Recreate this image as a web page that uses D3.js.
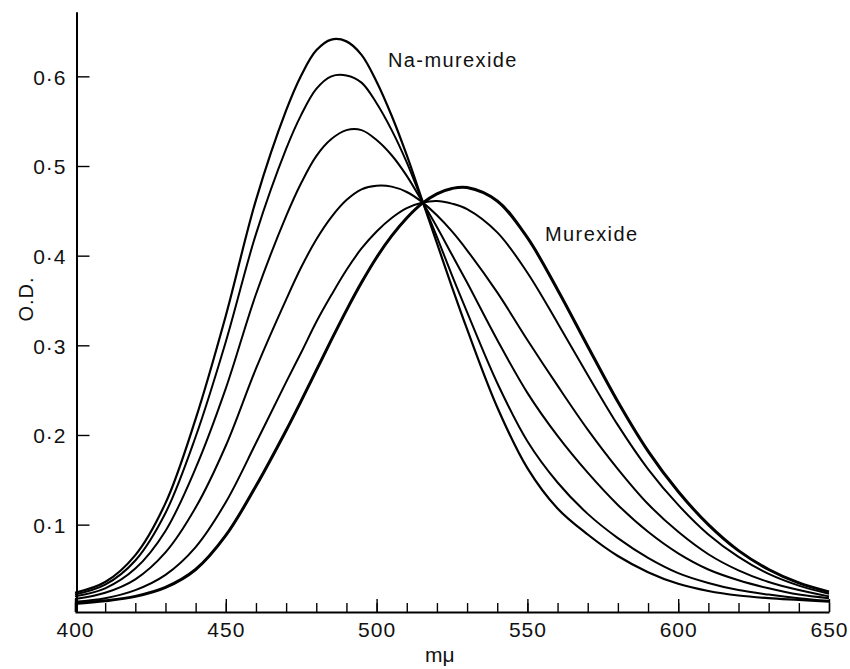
<!DOCTYPE html>
<html>
<head>
<meta charset="utf-8">
<script src="https://cdn.jsdelivr.net/npm/d3@7"></script>
<style>
  body { margin: 0; background: #fff; }
  svg { display: block; }
  text { font-family: "Liberation Sans", Arial, sans-serif; fill: #111; }
</style>
</head>
<body>
<svg width="850" height="669"></svg>
<script>
// wavelength (mu) and optical density
const wavelengths = [400, 410, 420, 430, 440, 450, 460, 470, 475, 480, 485, 490, 495, 500, 505,
  510, 515, 520, 525, 530, 540, 550, 560, 570, 580, 590, 600, 610, 620, 630, 640, 650];

const naMurexide = [0.024, 0.036, 0.066, 0.124, 0.218, 0.333, 0.462, 0.562, 0.601, 0.629, 0.641, 0.639, 0.624, 0.594, 0.556,
  0.512, 0.463, 0.414, 0.365, 0.318, 0.231, 0.163, 0.118, 0.089, 0.065, 0.047, 0.034, 0.026, 0.021, 0.018, 0.016, 0.014];
const mixA = [0.022, 0.033, 0.060, 0.113, 0.198, 0.304, 0.424, 0.519, 0.557, 0.586, 0.600, 0.601, 0.593, 0.570, 0.540,
  0.504, 0.462, 0.421, 0.378, 0.337, 0.258, 0.193, 0.147, 0.112, 0.085, 0.063, 0.046, 0.035, 0.027, 0.022, 0.018, 0.015];
const mixB = [0.020, 0.029, 0.051, 0.093, 0.163, 0.252, 0.357, 0.444, 0.481, 0.511, 0.530, 0.540, 0.540, 0.529, 0.512,
  0.489, 0.461, 0.432, 0.401, 0.370, 0.306, 0.247, 0.199, 0.158, 0.122, 0.092, 0.068, 0.050, 0.038, 0.029, 0.022, 0.018];
const mixC = [0.017, 0.024, 0.039, 0.069, 0.119, 0.188, 0.274, 0.351, 0.387, 0.418, 0.443, 0.462, 0.474, 0.478, 0.477,
  0.471, 0.460, 0.445, 0.427, 0.406, 0.359, 0.306, 0.255, 0.206, 0.162, 0.123, 0.092, 0.067, 0.049, 0.036, 0.027, 0.020];
const mixD = [0.014, 0.018, 0.027, 0.044, 0.075, 0.125, 0.191, 0.259, 0.292, 0.326, 0.356, 0.384, 0.408, 0.427, 0.442,
  0.453, 0.459, 0.461, 0.458, 0.452, 0.426, 0.381, 0.325, 0.267, 0.211, 0.162, 0.122, 0.089, 0.064, 0.045, 0.032, 0.023];
const murexide = [0.012, 0.015, 0.020, 0.030, 0.050, 0.088, 0.143, 0.205, 0.238, 0.272, 0.306, 0.339, 0.370, 0.398, 0.422,
  0.442, 0.458, 0.469, 0.475, 0.476, 0.461, 0.420, 0.362, 0.299, 0.237, 0.182, 0.137, 0.100, 0.071, 0.050, 0.035, 0.025];

const xMinorTicks = d3.range(400, 651, 10);
const xTickLabels = [400, 450, 500, 550, 600, 650];
const yTickLabels = [0.1, 0.2, 0.3, 0.4, 0.5, 0.6];

const series = [
  { values: naMurexide, width: 2.2 },
  { values: mixA, width: 2 },
  { values: mixB, width: 2 },
  { values: mixC, width: 2 },
  { values: mixD, width: 2 },
  { values: murexide, width: 3 }
];

const svg = d3.select("svg");

const xScale = d3.scaleLinear()
  .domain([400, 650])
  .range([75, 829]);
const yScale = d3.scaleLinear()
  .domain([0, 0.7])
  .range([614.3, 614.3 - 0.7 * 896.6]);

// x axis sits a touch above zero in the original print
const baseValue = 0.0025;
const yTop = 0.672;

// x axis: minor ticks every 10, labelled ticks every 50
svg.append("g")
  .attr("transform", `translate(0,${yScale(baseValue)})`)
  .call(d3.axisBottom(xScale).tickValues(xMinorTicks).tickSizeInner(-9).tickSizeOuter(0).tickFormat(""))
  .call(g => g.select(".domain").attr("stroke-width", 2))
  .call(g => g.selectAll(".tick line").attr("stroke-width", 1.4));

svg.append("g")
  .attr("transform", `translate(0,${yScale(baseValue)})`)
  .call(d3.axisBottom(xScale).tickValues(xTickLabels).tickSizeInner(-13).tickSizeOuter(0).tickPadding(10))
  .call(g => g.select(".domain").remove())
  .call(g => g.selectAll(".tick line").attr("stroke-width", 1.4))
  .call(g => g.selectAll(".tick text")
    .attr("font-size", 21)
    .attr("letter-spacing", 1)
    .attr("font-family", "Liberation Sans, Arial, sans-serif"));

// y axis
const yAxisScale = yScale.copy().domain([baseValue, yTop]).range([yScale(baseValue), yScale(yTop)]);
svg.append("g")
  .attr("transform", `translate(${xScale(400) + 1.5},0)`)
  .call(d3.axisLeft(yAxisScale).tickValues(yTickLabels).tickSizeInner(-13).tickSizeOuter(0).tickPadding(10)
    .tickFormat(d => d3.format(".1f")(d).replace(".", "\u00b7")))
  .call(g => g.select(".domain").attr("stroke-width", 2))
  .call(g => g.selectAll(".tick line").attr("stroke-width", 1.4))
  .call(g => g.selectAll(".tick text")
    .attr("font-size", 21)
    .attr("dy", "0.38em")
    .attr("letter-spacing", 1)
    .attr("font-family", "Liberation Sans, Arial, sans-serif"));

// spectra
const line = d3.line()
  .x((d, i) => xScale(wavelengths[i]))
  .y(d => yScale(d))
  .curve(d3.curveCatmullRom.alpha(0.5));

svg.append("g")
  .selectAll("path")
  .data(series)
  .enter().append("path")
  .attr("d", d => line(d.values))
  .attr("fill", "none")
  .attr("stroke", "#000")
  .attr("stroke-width", d => d.width)
  .attr("stroke-linejoin", "round");

// labels
svg.append("text")
  .attr("x", 388)
  .attr("y", 66.5)
  .attr("font-size", 20)
  .attr("letter-spacing", 1.4)
  .text("Na-murexide");

svg.append("text")
  .attr("x", 545)
  .attr("y", 240.5)
  .attr("font-size", 20)
  .attr("letter-spacing", 1.4)
  .text("Murexide");

svg.append("text")
  .attr("x", 425)
  .attr("y", 662)
  .attr("font-size", 21)
  .text("m\u03bc");

svg.append("text")
  .attr("transform", "translate(33,299) rotate(-90)")
  .attr("text-anchor", "middle")
  .attr("font-size", 20)
  .attr("letter-spacing", 1)
  .text("O.D.");
</script>
</body>
</html>
